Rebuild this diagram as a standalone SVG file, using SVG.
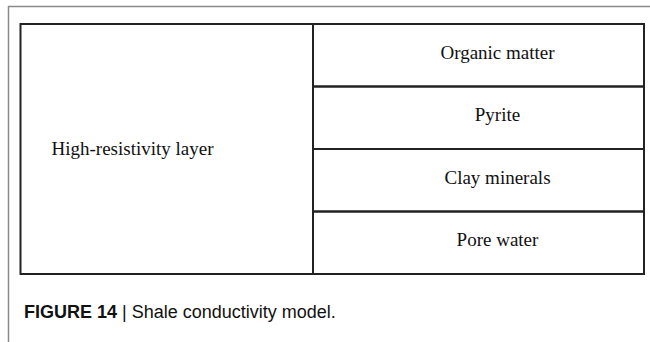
<svg xmlns="http://www.w3.org/2000/svg" width="650" height="342" viewBox="0 0 650 342">
<style>
.frame{fill:none;stroke:#8a8a8a;stroke-width:1.5}
.cell{fill:none;stroke:#222;stroke-width:2}
.lbl{font-family:"Liberation Serif","Times New Roman",serif;font-size:19px;fill:#111;text-anchor:middle}
.cap{font-family:"Liberation Sans",Arial,sans-serif;font-size:18px;fill:#111}
</style>
<rect width="650" height="342" fill="#fff"/>
<path class="frame" d="M650 6.5H8.5V342"/>
<g id="high-resistivity">
<rect class="cell" x="20.5" y="24" width="292.5" height="250"/>
<text class="lbl" x="132.5" y="155">High-resistivity layer</text>
</g>
<g id="organic-matter">
<rect class="cell" x="313" y="24" width="331" height="62.5"/>
<text class="lbl" x="497.5" y="59">Organic matter</text>
</g>
<g id="pyrite">
<rect class="cell" x="313" y="86.5" width="331" height="62.5"/>
<text class="lbl" x="497.5" y="121">Pyrite</text>
</g>
<g id="clay-minerals">
<rect class="cell" x="313" y="149" width="331" height="62.5"/>
<text class="lbl" x="497.5" y="184">Clay minerals</text>
</g>
<g id="pore-water">
<rect class="cell" x="313" y="211.5" width="331" height="62.5"/>
<text class="lbl" x="497.5" y="246">Pore water</text>
</g>
<g id="connectors"></g>
<text class="cap" x="24" y="318"><tspan font-weight="bold">FIGURE 14</tspan> | Shale conductivity model.</text>
</svg>
